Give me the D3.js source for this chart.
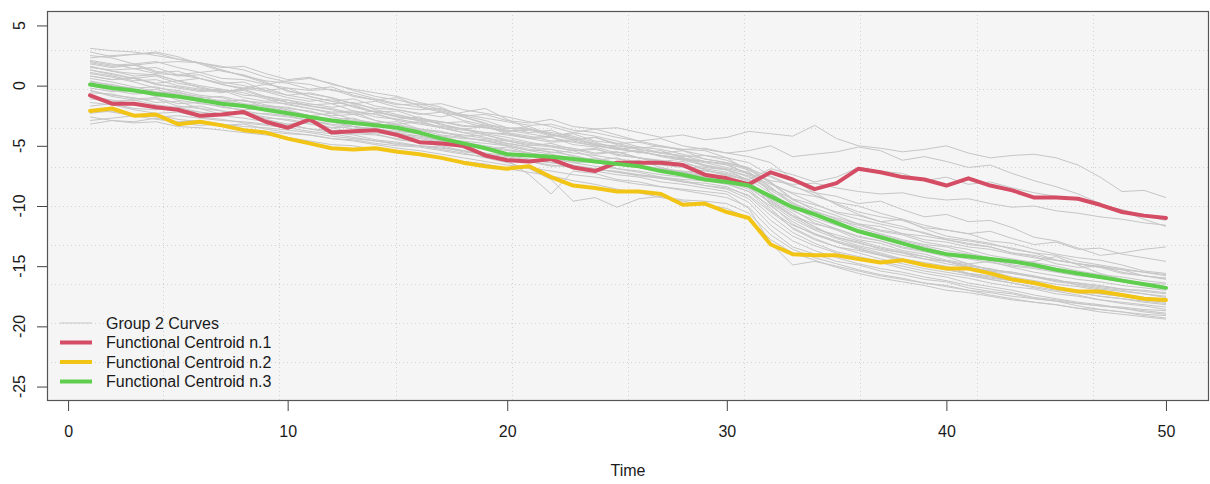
<!DOCTYPE html>
<html lang="en">
<head>
  <meta charset="UTF-8">
  <title>Group 2 Curves and Functional Centroids</title>
  <script src="https://d3js.org/d3.v7.min.js"></script>
  <style>
    body {
      margin: 0;
      padding: 0;
      background: #fff;
    }

    svg {
      display: block;
      font-family: Arial, "Liberation Sans", sans-serif;
    }

    .tick-label {
      font-size: 16px;
      fill: #1a1a1a;
    }
  </style>
</head>
<body>
  <div id="chart"></div>

  <script>
    const time = [1, 2, 3, 4, 5, 6, 7, 8, 9, 10, 11, 12, 13, 14, 15, 16, 17, 18, 19, 20,
                  21, 22, 23, 24, 25, 26, 27, 28, 29, 30, 31, 32, 33, 34, 35, 36, 37, 38, 39, 40,
                  41, 42, 43, 44, 45, 46, 47, 48, 49, 50];
    const xTicks = [0, 10, 20, 30, 40, 50];
    const yTicks = [-25, -20, -15, -10, -5, 0, 5];

    const centroid1 = [-0.8, -1.5, -1.5, -1.8, -2.0, -2.5, -2.4, -2.2, -3.0, -3.5,
                       -2.8, -3.9, -3.8, -3.7, -4.1, -4.7, -4.8, -5.0, -5.8, -6.2,
                       -6.3, -6.1, -6.8, -7.1, -6.4, -6.4, -6.4, -6.6, -7.4, -7.7,
                       -8.2, -7.2, -7.8, -8.6, -8.1, -6.9, -7.2, -7.6, -7.8, -8.3,
                       -7.7, -8.3, -8.7, -9.3, -9.3, -9.4, -9.9, -10.5, -10.8, -11.0];
    const centroid2 = [-2.1, -1.9, -2.5, -2.4, -3.2, -3.0, -3.3, -3.7, -3.9, -4.4,
                       -4.8, -5.2, -5.3, -5.2, -5.5, -5.7, -6.0, -6.4, -6.7, -6.9,
                       -6.7, -7.6, -8.3, -8.5, -8.8, -8.8, -9.0, -9.9, -9.8, -10.5,
                       -11.0, -13.2, -14.0, -14.1, -14.1, -14.4, -14.7, -14.5, -14.9, -15.2,
                       -15.2, -15.6, -16.1, -16.4, -16.8, -17.1, -17.1, -17.4, -17.7, -17.8];
    const centroid3 = [0.1, -0.2, -0.4, -0.7, -0.9, -1.2, -1.5, -1.7, -2.0, -2.3,
                       -2.6, -2.9, -3.1, -3.3, -3.5, -3.9, -4.4, -4.8, -5.2, -5.7,
                       -5.8, -5.9, -6.1, -6.3, -6.5, -6.7, -7.1, -7.4, -7.8, -8.0,
                       -8.3, -9.2, -10.1, -10.7, -11.4, -12.1, -12.6, -13.1, -13.6, -14.0,
                       -14.2, -14.4, -14.6, -14.9, -15.3, -15.6, -15.9, -16.2, -16.5, -16.8];

    // one row per curve of group 2, values at time 1..50
    const group2Curves = [
      [1.6, 1.2, 1.0, 0.9, 0.4, 0.6, 0.1, -0.3, -0.2, -0.8, -0.6, -1.0, -1.5, -1.3, -1.8, -2.0, -1.9, -2.5, -2.4, -2.9, -3.1, -2.8, -3.4, -3.6, -3.5, -3.9, -4.3, -4.1, -4.5, -4.3, -3.8, -4.0, -4.2, -3.3, -4.4, -5.0, -5.2, -5.5, -5.3, -5.0, -5.6, -6.0, -5.8, -5.7, -6.0, -6.6, -7.6, -8.8, -8.7, -9.3],
      [0.8, 0.5, 0.7, 0.1, -0.2, -0.5, -0.4, -1.0, -1.3, -1.2, -1.7, -1.9, -2.3, -2.1, -2.6, -2.9, -3.1, -3.0, -3.5, -3.8, -3.7, -4.2, -4.0, -4.6, -4.8, -4.7, -5.1, -5.3, -5.2, -5.6, -5.4, -5.0, -5.9, -5.7, -5.5, -5.1, -5.4, -6.2, -5.9, -6.3, -6.8, -6.6, -7.3, -7.9, -8.4, -9.0, -9.8, -10.4, -11.1, -11.7],
      [-0.4, -0.9, -1.2, -1.1, -1.7, -1.9, -2.4, -2.2, -2.8, -3.2, -3.0, -3.5, -3.4, -3.9, -4.2, -4.1, -4.6, -4.9, -5.3, -5.1, -5.6, -5.8, -6.3, -6.0, -6.5, -6.2, -6.8, -7.2, -7.0, -7.5, -7.8, -6.9, -7.4, -8.0, -7.6, -6.8, -7.1, -7.3, -7.9, -7.6, -8.2, -8.0, -8.5, -8.9, -9.2, -9.5, -9.9, -10.3, -10.8, -11.2],
      [1.3, 0.9, 0.6, 0.8, 0.2, -0.1, -0.5, -0.3, -0.9, -1.4, -1.6, -1.5, -2.1, -2.4, -2.8, -2.6, -3.3, -3.6, -3.4, -4.0, -4.4, -4.3, -4.9, -5.1, -5.6, -5.4, -5.9, -6.2, -6.6, -6.9, -7.3, -7.9, -8.2, -8.1, -8.5, -8.8, -9.0, -8.9, -9.3, -9.5, -9.4, -9.8, -10.1, -10.0, -10.4, -10.6, -10.9, -11.1, -11.4, -11.6],
      [2.0, 1.7, 1.8, 1.2, 0.8, 0.9, 0.3, 0.0, -0.4, -0.2, -0.9, -1.3, -1.1, -1.7, -2.0, -2.4, -2.2, -2.9, -3.3, -3.6, -3.4, -4.1, -4.5, -4.3, -4.9, -5.3, -5.6, -5.4, -6.1, -6.4, -6.9, -7.6, -8.4, -8.9, -9.2, -9.8, -9.6, -10.3, -10.9, -10.7, -11.3, -11.2, -11.8, -12.6, -12.9, -13.5, -14.1, -13.9, -13.6, -13.4],
      [0.3, 0.1, -0.3, -0.6, -0.5, -1.1, -1.3, -1.2, -1.8, -2.1, -2.5, -2.3, -2.8, -3.1, -3.0, -3.6, -3.9, -4.2, -4.1, -4.6, -5.0, -4.8, -5.3, -5.7, -5.5, -6.0, -6.3, -6.1, -6.7, -7.0, -7.5, -8.6, -9.4, -9.9, -10.5, -10.8, -11.3, -11.1, -11.6, -12.0, -12.3, -12.1, -12.7, -13.2, -13.0, -13.6, -13.5, -14.0, -14.3, -14.6],
      [3.1, 2.9, 2.8, 2.5, 2.2, 1.9, 1.6, 1.3, 0.7, 0.3, 0.1, -0.4, -0.6, -1.1, -1.5, -1.8, -2.2, -2.6, -3.2, -3.5, -3.6, -4.1, -4.3, -4.9, -5.0, -5.3, -5.6, -5.8, -6.3, -6.5, -7.0, -8.1, -9.5, -10.2, -10.8, -11.5, -11.7, -12.3, -12.5, -12.8, -13.2, -13.4, -13.9, -14.1, -14.5, -14.8, -15.1, -15.3, -15.8, -16.0],
      [2.8, 2.4, 2.6, 2.7, 2.2, 1.9, 1.5, 1.6, 1.0, 0.5, 0.7, 0.1, -0.3, -0.6, -0.9, -1.4, -1.8, -2.6, -3.1, -3.8, -3.6, -4.0, -4.5, -4.3, -4.8, -5.2, -5.0, -5.4, -5.8, -6.0, -6.4, -7.5, -8.3, -9.1, -9.8, -10.5, -10.9, -11.2, -11.8, -12.0, -12.3, -12.9, -13.1, -13.6, -14.0, -14.3, -14.5, -14.9, -15.4, -15.6],
      [2.5, 2.3, 1.8, 2.0, 1.5, 1.1, 1.3, 0.8, 0.4, 0.2, -0.3, -0.1, -0.8, -1.2, -1.0, -1.7, -2.1, -2.5, -2.9, -3.5, -3.9, -3.7, -4.4, -4.8, -5.1, -5.6, -5.4, -6.0, -6.6, -7.0, -7.9, -9.6, -10.8, -11.5, -11.9, -12.6, -12.9, -13.5, -13.8, -14.2, -14.8, -14.6, -15.1, -15.5, -15.8, -16.1, -16.3, -16.6, -16.8, -17.0],
      [2.3, 2.5, 2.6, 2.8, 2.4, 1.8, 1.2, 0.9, 0.3, -0.5, -0.7, -1.0, -1.5, -1.9, -2.0, -2.3, -2.6, -2.2, -1.9, -2.8, -3.6, -3.9, -4.2, -4.7, -5.2, -5.5, -5.8, -6.1, -6.4, -6.8, -7.2, -8.4, -9.9, -10.6, -11.2, -11.6, -12.1, -12.4, -13.0, -13.3, -13.6, -14.1, -14.4, -14.7, -15.0, -15.4, -15.7, -15.9, -16.2, -16.4],
      [2.1, 1.8, 1.4, 1.5, 0.9, 0.6, 0.2, 0.3, -0.4, -0.8, -1.1, -1.5, -1.4, -2.0, -2.4, -2.8, -3.2, -3.6, -4.1, -4.5, -4.8, -5.0, -5.4, -5.2, -5.8, -6.0, -6.5, -6.3, -7.0, -7.4, -7.8, -8.9, -10.3, -11.4, -12.0, -12.8, -13.1, -13.7, -14.0, -14.5, -14.8, -15.3, -15.5, -15.9, -16.1, -16.6, -16.9, -17.1, -17.3, -17.5],
      [1.9, 1.6, 1.7, 1.1, 1.2, 0.6, 0.1, -0.2, -0.5, -1.0, -1.3, -1.1, -1.8, -2.2, -2.1, -2.7, -3.0, -3.4, -3.3, -3.9, -4.2, -4.6, -4.5, -4.9, -5.3, -5.1, -5.6, -5.9, -5.8, -6.2, -6.9, -8.1, -9.0, -9.8, -10.6, -11.1, -11.5, -11.9, -12.2, -12.8, -13.1, -13.4, -13.9, -14.2, -14.8, -15.1, -15.0, -15.5, -15.8, -16.0],
      [1.8, 1.5, 1.7, 1.9, 2.0, 1.9, 1.3, 0.8, 0.2, -0.4, -0.9, -1.3, -1.7, -2.2, -2.6, -2.9, -3.5, -3.9, -4.3, -4.8, -5.1, -5.6, -5.4, -6.0, -6.4, -6.8, -7.1, -7.5, -7.9, -8.2, -8.8, -10.4, -11.6, -12.3, -12.9, -13.4, -13.9, -14.4, -14.7, -15.0, -15.6, -15.8, -16.2, -16.5, -16.9, -17.2, -17.5, -17.7, -18.0, -18.2],
      [1.6, 1.2, 0.8, 0.9, 0.4, 0.0, -0.3, -0.6, -1.1, -1.6, -1.9, -2.3, -2.2, -2.9, -3.3, -3.6, -3.8, -4.3, -4.6, -5.0, -5.4, -5.3, -5.9, -6.2, -6.0, -6.6, -6.9, -7.2, -7.6, -7.8, -8.3, -9.5, -10.8, -11.7, -12.6, -13.0, -13.6, -13.9, -14.4, -14.6, -15.1, -15.4, -15.9, -16.2, -16.5, -16.7, -17.0, -17.3, -17.6, -17.8],
      [1.5, 1.3, 1.4, 1.0, 0.9, 1.1, 0.6, 0.5, 0.1, -0.2, -0.4, -0.3, -0.9, -1.2, -1.6, -1.5, -2.0, -2.4, -2.7, -3.0, -3.3, -3.2, -3.7, -3.9, -4.3, -4.6, -4.4, -5.0, -5.3, -5.6, -5.9, -6.4, -7.8, -8.9, -9.9, -10.7, -11.3, -11.7, -12.3, -12.7, -12.9, -13.2, -13.5, -13.9, -14.1, -14.6, -14.9, -15.2, -15.5, -15.7],
      [1.3, 1.0, 0.6, 0.2, 0.4, -0.2, -0.5, -0.4, -1.0, -1.4, -1.7, -2.0, -2.4, -2.3, -2.9, -3.2, -3.5, -3.9, -4.0, -4.3, -4.7, -5.0, -5.2, -5.6, -5.5, -6.0, -6.3, -6.7, -6.9, -7.2, -7.8, -9.9, -11.5, -12.4, -13.0, -13.5, -14.1, -14.4, -14.9, -15.3, -15.6, -16.1, -16.4, -16.8, -17.1, -17.4, -17.8, -18.1, -18.3, -18.6],
      [1.1, 0.8, 0.4, 0.5, 0.0, -0.3, -0.6, -0.2, 0.1, 0.4, 0.6, 0.2, -0.4, -0.9, -1.2, -1.6, -1.5, -2.0, -2.3, -2.6, -3.0, -3.4, -3.9, -4.2, -4.6, -5.1, -5.3, -5.7, -6.1, -6.4, -6.8, -8.0, -9.4, -10.4, -11.1, -11.8, -12.3, -12.8, -13.2, -13.4, -13.9, -14.3, -14.6, -15.0, -15.3, -15.6, -15.8, -16.1, -16.5, -16.7],
      [1.0, 0.7, 0.3, -0.2, -0.4, -0.8, -1.0, -1.5, -1.7, -2.0, -2.5, -2.8, -2.7, -3.3, -3.7, -4.0, -4.2, -4.7, -5.0, -5.3, -5.6, -6.0, -6.4, -6.3, -6.9, -7.2, -7.6, -7.9, -8.3, -8.6, -9.4, -11.2, -12.5, -13.3, -13.9, -14.4, -14.7, -15.2, -15.6, -15.9, -16.4, -16.7, -17.0, -17.4, -17.7, -18.0, -18.2, -18.5, -18.8, -19.0],
      [0.8, 0.5, 0.6, 0.1, -0.1, -0.4, -0.3, -0.8, -0.9, -1.2, -1.5, -1.8, -1.6, -2.2, -2.5, -2.8, -3.0, -3.3, -3.5, -3.7, -4.0, -4.3, -4.7, -5.0, -5.2, -5.5, -5.8, -6.1, -6.3, -6.6, -7.3, -8.5, -9.7, -10.6, -11.3, -12.0, -12.4, -12.9, -13.3, -13.7, -14.0, -14.4, -14.8, -14.6, -14.2, -14.9, -15.6, -16.1, -16.5, -16.9],
      [0.6, 0.3, -0.1, -0.5, -0.7, -1.1, -1.4, -1.6, -2.0, -2.3, -2.7, -3.0, -3.4, -3.6, -4.1, -4.4, -4.7, -5.2, -5.6, -6.2, -7.4, -9.0, -7.1, -7.3, -7.8, -8.0, -8.4, -8.7, -9.0, -9.3, -10.1, -12.0, -13.4, -14.0, -14.6, -14.9, -15.4, -15.7, -16.1, -16.3, -16.8, -17.1, -17.3, -17.7, -17.9, -18.3, -18.6, -18.8, -19.1, -19.3],
      [0.4, 0.0, -0.2, -0.1, -0.6, -0.9, -1.3, -1.2, -1.6, -1.9, -2.1, -2.6, -2.9, -3.1, -3.5, -3.7, -4.1, -4.3, -4.6, -4.9, -5.3, -5.5, -5.8, -6.2, -6.4, -6.7, -6.9, -7.1, -7.4, -7.6, -8.5, -9.7, -10.9, -11.9, -12.4, -12.9, -13.4, -13.8, -14.2, -14.6, -14.9, -15.3, -15.5, -15.8, -16.2, -16.4, -16.6, -16.9, -17.0, -17.2],
      [0.2, -0.1, -0.5, -0.3, -0.8, -1.0, -0.9, -1.3, -1.4, -1.5, -1.9, -2.2, -2.1, -2.6, -2.8, -3.1, -3.4, -3.6, -3.9, -4.1, -4.4, -4.7, -4.6, -5.0, -5.3, -5.5, -5.8, -6.0, -6.3, -6.5, -7.4, -8.2, -8.9, -9.2, -9.7, -10.0, -10.6, -11.1, -11.9, -12.5, -12.8, -13.1, -13.6, -13.9, -14.5, -14.8, -15.1, -15.6, -15.8, -16.1],
      [0.0, -0.4, -0.7, -0.6, -1.2, -1.5, -1.7, -2.1, -2.4, -2.6, -2.9, -3.3, -3.6, -3.5, -4.0, -4.3, -4.6, -5.0, -5.2, -5.6, -5.9, -6.0, -6.4, -6.7, -6.9, -7.1, -7.4, -7.6, -7.9, -8.0, -8.6, -10.2, -11.9, -12.8, -13.4, -13.7, -14.1, -14.6, -15.0, -15.2, -15.7, -16.0, -16.2, -16.5, -16.8, -17.0, -17.3, -17.5, -17.8, -18.0],
      [-0.2, -0.5, -0.4, -0.9, -1.0, -1.3, -1.2, -1.6, -1.7, -1.8, -2.2, -2.5, -2.4, -2.9, -3.2, -3.0, -3.5, -3.7, -3.9, -4.0, -4.3, -4.2, -3.9, -3.6, -4.1, -4.6, -5.0, -5.3, -5.4, -6.0, -7.1, -8.9, -10.1, -11.0, -11.6, -12.2, -12.7, -13.1, -13.4, -13.9, -14.2, -14.5, -14.9, -15.1, -15.4, -15.7, -15.9, -16.1, -16.4, -16.5],
      [-0.4, -0.8, -1.0, -1.4, -1.3, -1.9, -2.1, -2.3, -2.6, -2.9, -3.2, -3.5, -3.9, -4.0, -4.5, -4.7, -5.0, -5.4, -5.8, -6.0, -6.3, -6.7, -6.6, -7.1, -7.4, -7.6, -8.0, -8.2, -8.5, -8.8, -9.7, -11.6, -12.9, -13.7, -14.3, -14.8, -15.2, -15.5, -15.9, -16.2, -16.6, -16.9, -17.2, -17.6, -17.8, -18.1, -18.3, -18.5, -18.7, -18.9],
      [-0.6, -0.7, -1.1, -1.0, -1.5, -1.4, -1.8, -2.0, -1.9, -2.2, -2.6, -2.8, -3.0, -3.3, -3.2, -3.7, -3.9, -4.1, -4.4, -4.6, -4.9, -5.1, -5.4, -5.3, -5.7, -6.0, -6.2, -6.5, -6.8, -7.0, -7.6, -8.7, -9.8, -10.5, -11.0, -11.5, -12.0, -12.3, -12.8, -13.0, -13.4, -13.6, -14.0, -14.3, -14.5, -14.8, -15.0, -15.3, -15.5, -15.8],
      [-0.9, -1.2, -1.5, -1.7, -2.0, -2.2, -2.5, -2.7, -3.0, -3.2, -3.6, -3.9, -4.1, -4.5, -4.7, -5.0, -5.3, -5.6, -6.0, -6.4, -6.9, -7.8, -9.6, -9.3, -10.1, -9.4, -9.2, -9.5, -9.6, -9.8, -10.6, -12.4, -13.6, -14.3, -14.8, -15.3, -15.7, -16.0, -16.4, -16.7, -17.0, -17.4, -17.7, -18.0, -18.2, -18.5, -18.8, -19.0, -19.2, -19.4],
      [-1.1, -1.3, -1.2, -1.6, -1.8, -1.7, -2.1, -2.4, -2.3, -2.5, -2.9, -3.2, -3.4, -3.8, -3.9, -4.2, -4.5, -4.6, -4.8, -5.0, -5.4, -5.7, -6.0, -6.3, -6.6, -6.8, -7.1, -7.3, -7.6, -7.9, -8.3, -9.4, -10.6, -11.8, -12.6, -13.1, -13.5, -13.9, -14.2, -14.6, -15.0, -15.2, -15.6, -15.9, -16.3, -16.5, -16.8, -17.0, -17.3, -17.6],
      [-1.4, -1.6, -2.0, -2.3, -2.2, -2.6, -2.8, -3.1, -3.3, -3.5, -3.8, -4.0, -4.3, -4.6, -4.8, -5.0, -5.1, -5.5, -5.7, -5.9, -6.2, -6.4, -6.7, -6.9, -7.2, -7.5, -7.7, -8.0, -8.1, -8.4, -9.2, -10.8, -12.2, -13.1, -13.8, -14.2, -14.6, -15.0, -15.4, -15.7, -16.0, -16.4, -16.7, -16.9, -17.3, -17.5, -17.8, -18.0, -18.2, -18.4],
      [-1.7, -1.5, -1.9, -2.0, -1.8, -2.2, -2.4, -2.3, -2.7, -2.8, -3.1, -3.0, -3.4, -3.6, -3.8, -4.0, -4.2, -4.4, -4.5, -4.8, -5.1, -5.3, -5.6, -5.8, -6.1, -6.3, -6.6, -6.8, -7.1, -7.3, -8.0, -9.3, -10.4, -11.2, -11.9, -12.5, -12.9, -13.4, -13.7, -14.1, -14.4, -14.7, -15.0, -15.2, -15.5, -15.8, -16.0, -16.3, -16.6, -16.8],
      [-2.0, -2.2, -2.5, -2.4, -2.8, -3.0, -3.3, -3.2, -3.6, -3.9, -4.1, -4.4, -4.6, -4.9, -5.2, -5.4, -5.7, -6.0, -6.3, -6.6, -6.8, -7.1, -7.4, -7.6, -7.9, -8.2, -8.4, -8.6, -8.8, -9.0, -10.2, -13.1, -14.9, -14.6, -15.0, -15.4, -15.8, -16.1, -16.4, -16.6, -17.0, -17.2, -17.5, -17.7, -17.9, -18.1, -18.3, -18.4, -18.6, -18.7],
      [-2.3, -2.1, -2.4, -2.6, -2.5, -2.7, -2.9, -3.0, -3.2, -3.3, -3.6, -3.7, -4.0, -4.1, -4.4, -4.6, -4.8, -5.0, -5.1, -5.4, -5.6, -5.9, -6.1, -6.4, -6.6, -6.8, -7.0, -7.2, -7.5, -7.7, -8.4, -9.8, -11.1, -12.0, -12.7, -13.3, -13.7, -14.1, -14.4, -14.8, -15.1, -15.4, -15.6, -15.9, -16.2, -16.4, -16.7, -16.9, -17.1, -17.3],
      [-2.6, -2.9, -3.1, -3.0, -3.4, -3.5, -3.7, -3.9, -4.1, -4.3, -4.6, -4.9, -5.0, -5.3, -5.5, -5.8, -6.0, -6.3, -6.5, -6.9, -7.2, -7.5, -7.9, -8.2, -8.6, -8.9, -9.3, -9.6, -9.9, -10.2, -11.0, -12.8, -13.9, -14.5, -15.1, -15.6, -16.0, -16.3, -16.6, -17.0, -17.2, -17.5, -17.8, -18.0, -18.2, -18.5, -18.6, -18.8, -19.0, -19.1],
      [-2.9, -2.7, -2.5, -2.8, -3.0, -2.9, -3.2, -3.4, -3.5, -3.7, -3.9, -4.2, -4.4, -4.6, -4.9, -5.0, -5.2, -5.4, -5.6, -5.8, -6.1, -6.4, -6.6, -6.9, -7.2, -7.4, -7.7, -8.0, -8.3, -8.5, -9.1, -10.5, -11.8, -12.7, -13.4, -13.9, -14.4, -14.8, -15.2, -15.5, -15.8, -16.1, -16.4, -16.7, -17.0, -17.2, -17.5, -17.7, -17.9, -18.1],
      [-3.2, -2.9, -3.0, -2.7, -3.1, -3.3, -3.2, -3.6, -3.8, -4.0, -4.1, -4.4, -4.5, -4.8, -5.0, -5.1, -5.4, -5.7, -5.9, -6.2, -6.3, -6.6, -6.8, -7.0, -7.1, -7.4, -7.6, -7.8, -7.9, -8.1, -8.8, -10.0, -11.3, -12.3, -13.0, -13.6, -14.0, -14.5, -14.9, -15.3, -15.6, -15.9, -16.2, -16.5, -16.8, -17.0, -17.3, -17.5, -17.7, -17.9]
    ];

    const legendLabels = ["Group 2 Curves", "Functional Centroid n.1",
                          "Functional Centroid n.2", "Functional Centroid n.3"];

    const width = 1210;
    const height = 484;
    const box = { left: 47, right: 1209, top: 11, bottom: 401 };

    const curveGrey = "#c6c6c6";
    const colors = ["#D44D64", "#F2C416", "#5FCE4E"];

    const svg = d3.select("#chart")
                  .append("svg")
                  .attr("width", width)
                  .attr("height", height);

    // usr range: data range of x (1..50) and y (-25..5) widened by 4%
    const xScale = d3.scaleLinear()
                     .domain([-0.96, 51.96])
                     .range([box.left, box.right]);

    const yScale = d3.scaleLinear()
                     .domain([-26.2, 6.2])
                     .range([box.bottom, box.top]);

    // panel background
    svg.append("rect")
       .attr("x", box.left)
       .attr("y", box.top)
       .attr("width", box.right - box.left)
       .attr("height", box.bottom - box.top)
       .attr("fill", "#f5f5f5");

    // grid: the panel split into 10 equal parts each way
    const xd = xScale.domain();
    const yd = yScale.domain();
    const gridX = d3.range(1, 10).map(k => xd[0] + k * (xd[1] - xd[0]) / 10);
    const gridY = d3.range(1, 10).map(k => yd[0] + k * (yd[1] - yd[0]) / 10);

    const grid = svg.append("g")
                    .attr("stroke", "#d3d3d3")
                    .attr("stroke-width", 1)
                    .attr("stroke-dasharray", "1,3");

    grid.selectAll(".gx")
        .data(gridX)
        .enter()
        .append("line")
        .attr("x1", d => Math.round(xScale(d)) + 0.5)
        .attr("x2", d => Math.round(xScale(d)) + 0.5)
        .attr("y1", box.top)
        .attr("y2", box.bottom);

    grid.selectAll(".gy")
        .data(gridY)
        .enter()
        .append("line")
        .attr("x1", box.left)
        .attr("x2", box.right)
        .attr("y1", d => Math.round(yScale(d)) + 0.5)
        .attr("y2", d => Math.round(yScale(d)) + 0.5);

    const line = d3.line()
                   .x((d, i) => xScale(time[i]))
                   .y(d => yScale(d));

    // individual curves
    svg.append("g")
       .selectAll("path")
       .data(group2Curves)
       .enter()
       .append("path")
       .attr("d", line)
       .attr("fill", "none")
       .attr("stroke", curveGrey)
       .attr("stroke-width", 1);

    // centroids
    svg.append("g")
       .selectAll("path")
       .data([centroid1, centroid2, centroid3])
       .enter()
       .append("path")
       .attr("d", line)
       .attr("fill", "none")
       .attr("stroke", (d, i) => colors[i])
       .attr("stroke-width", 4)
       .attr("stroke-linejoin", "round")
       .attr("stroke-linecap", "round");

    // panel frame
    svg.append("rect")
       .attr("x", box.left + 0.5)
       .attr("y", box.top + 0.5)
       .attr("width", box.right - box.left - 1)
       .attr("height", box.bottom - box.top - 1)
       .attr("fill", "none")
       .attr("stroke", "#555")
       .attr("stroke-width", 1.2);

    // axes
    const xAxis = svg.append("g")
                     .attr("transform", `translate(0, ${box.bottom})`)
                     .call(d3.axisBottom(xScale)
                             .tickValues(xTicks)
                             .tickSize(10)
                             .tickPadding(15)
                             .tickFormat(d3.format("d")));
    xAxis.select(".domain").remove();
    xAxis.selectAll("line").attr("stroke", "#444");
    xAxis.selectAll("text")
         .attr("class", "tick-label")
         .attr("font-family", null)
         .attr("font-size", null);

    const yAxis = svg.append("g")
                     .attr("transform", `translate(${box.left}, 0)`)
                     .call(d3.axisLeft(yScale)
                             .tickValues(yTicks)
                             .tickSize(10)
                             .tickFormat(""));
    yAxis.select(".domain").remove();
    yAxis.selectAll("line").attr("stroke", "#444");

    svg.append("g")
       .selectAll("text")
       .data(yTicks)
       .enter()
       .append("text")
       .attr("class", "tick-label")
       .attr("text-anchor", "middle")
       .attr("transform", d => `translate(25, ${yScale(d)}) rotate(-90)`)
       .text(d => d);

    svg.append("text")
       .attr("class", "tick-label")
       .attr("text-anchor", "middle")
       .attr("x", (box.left + box.right) / 2)
       .attr("y", 476)
       .text("Time");

    // legend, bottom left inside the panel
    const legend = svg.append("g")
                      .attr("transform", "translate(60, 323)");

    const legendRows = legend.selectAll("g")
                             .data(legendLabels)
                             .enter()
                             .append("g")
                             .attr("transform", (d, i) => `translate(0, ${i * 19.5})`);

    legendRows.append("line")
              .attr("x1", 0)
              .attr("x2", 32)
              .attr("y1", 0)
              .attr("y2", 0)
              .attr("stroke", (d, i) => i === 0 ? curveGrey : colors[i - 1])
              .attr("stroke-width", (d, i) => i === 0 ? 1 : 4);

    legendRows.append("text")
              .attr("class", "tick-label")
              .attr("x", 46)
              .attr("dy", "0.35em")
              .text(d => d);
  </script>
</body>
</html>
